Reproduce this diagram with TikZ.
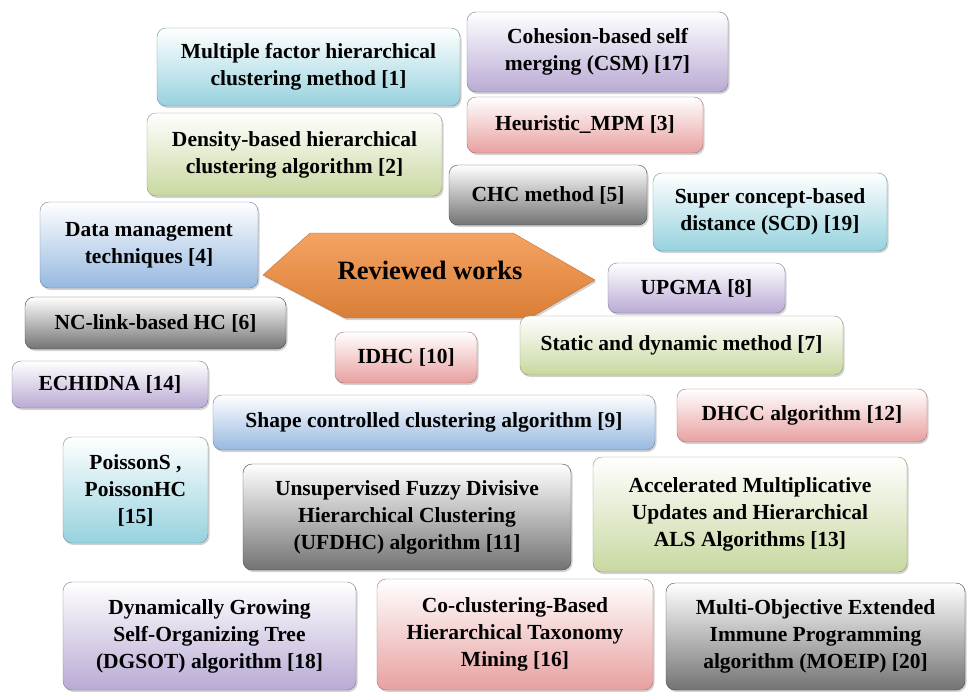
\documentclass[tikz,border=0pt]{standalone}
\usepackage{fontspec}
\setmainfont{Liberation Serif}
\usepackage{tikz}
\usepackage{xcolor}
\usetikzlibrary{shadows}

\definecolor{cyanc}{RGB}{150,210,222}
\definecolor{greenc}{RGB}{200,216,160}
\definecolor{bluec}{RGB}{150,184,224}
\definecolor{grayc}{RGB}{115,115,115}
\definecolor{purplec}{RGB}{185,170,212}
\definecolor{pinkc}{RGB}{232,160,160}
\definecolor{orangec}{RGB}{242,140,60}

\begin{document}
\begin{tikzpicture}[x=1pt,y=-1pt,
	box/.style={rounded corners=9pt, align=center, inner sep=0pt,
		font=\bfseries\fontsize{21.5}{27}\selectfont, text=black,
		drop shadow={shadow xshift=1.5pt, shadow yshift=-2pt, opacity=0.35}},
	cyanbox/.style={box, draw=cyanc!70!black, top color=white, bottom color=cyanc},
	greenbox/.style={box, draw=greenc!70!black, top color=white, bottom color=greenc},
	bluebox/.style={box, draw=bluec!70!black, top color=white, bottom color=bluec},
	graybox/.style={box, draw=grayc!60!black, top color=white, bottom color=grayc},
	purplebox/.style={box, draw=purplec!70!black, top color=white, bottom color=purplec},
	pinkbox/.style={box, draw=pinkc!70!black, top color=white, bottom color=pinkc},
	]
	\useasboundingbox (0,0) rectangle (971,691);

	% centre shape
	\draw[draw=orangec!80!black, top color=orangec!80, bottom color=orangec!90!black,
		drop shadow={shadow xshift=1.5pt, shadow yshift=-2pt, opacity=0.35}]
		(263,275) -- (310,233) -- (513,233) -- (595,280) -- (530,318) -- (345,318) -- cycle;
	\node (rw) at (430,270) {\bfseries\fontsize{26.5}{30}\selectfont Reviewed works};

	% top row
	\node[cyanbox, minimum width=303, minimum height=78] (mfh) at (308.5,67) {Multiple factor hierarchical\\clustering method [1]};
	\node[purplebox, minimum width=261, minimum height=80] (csm) at (597.5,52) {Cohesion-based self\\merging (CSM) [17]};
	\node[greenbox, minimum width=295, minimum height=83] (dhc) at (294.5,154.5) {Density-based hierarchical\\clustering algorithm [2]};
	\node[pinkbox, minimum width=236, minimum height=56] (mpm) at (585,125) {Heuristic\_MPM [3]};
	\node[graybox, minimum width=198, minimum height=60] (chc) at (548,195) {CHC method [5]};
	\node[cyanbox, minimum width=234, minimum height=78] (scd) at (770,212) {Super concept-based\\distance (SCD) [19]};
	\node[bluebox, minimum width=218, minimum height=86] (dmt) at (149,245) {Data management\\techniques [4]};

	% middle
	\node[purplebox, minimum width=177, minimum height=50] (upgma) at (696.5,288) {UPGMA [8]};
	\node[graybox, minimum width=261, minimum height=52] (nclink) at (155.5,323) {NC-link-based HC [6]};
	\node[greenbox, minimum width=323, minimum height=59] (sdm) at (681.5,345.5) {Static and dynamic method [7]};
	\node[pinkbox, minimum width=142, minimum height=51] (idhc) at (406,357.5) {IDHC [10]};
	\node[purplebox, minimum width=196, minimum height=47] (echidna) at (110,384.5) {ECHIDNA [14]};
	\node[bluebox, minimum width=442, minimum height=55] (scc) at (434,422.5) {Shape controlled clustering algorithm [9]};
	\node[pinkbox, minimum width=250, minimum height=53] (dhcc) at (802,415.5) {DHCC algorithm [12]};

	% lower rows
	\node[cyanbox, minimum width=145, minimum height=106] (pois) at (135.5,490) {PoissonS ,\\PoissonHC\\{[15]}};
	\node[graybox, minimum width=328, minimum height=106] (ufdhc) at (407,517) {Unsupervised Fuzzy Divisive\\Hierarchical Clustering\\(UFDHC) algorithm [11]};
	\node[greenbox, minimum width=314, minimum height=115] (amu) at (750,514.5) {Accelerated Multiplicative\\Updates and Hierarchical\\ALS Algorithms [13]};
	\node[purplebox, minimum width=293, minimum height=108] (dgsot) at (209.5,636) {Dynamically Growing\\Self-Organizing Tree\\(DGSOT) algorithm [18]};
	\node[pinkbox, minimum width=276, minimum height=111] (cbht) at (515,634.5) {Co-clustering-Based\\Hierarchical Taxonomy\\Mining [16]};
	\node[graybox, minimum width=299, minimum height=107] (moeip) at (815.5,636.5) {Multi-Objective Extended\\Immune Programming\\algorithm (MOEIP) [20]};
\end{tikzpicture}
\end{document}
